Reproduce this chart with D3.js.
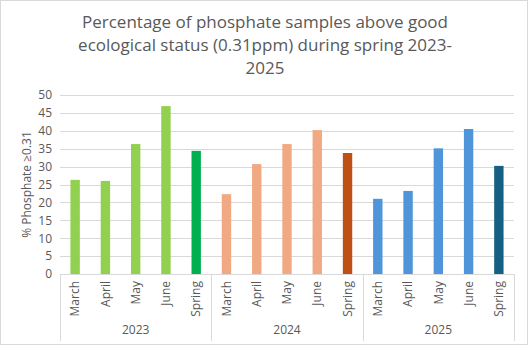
<!DOCTYPE html>
<html>
<head>
<meta charset="utf-8">
<script src="https://cdn.jsdelivr.net/npm/d3@7"></script>
<style>
html,body{margin:0;padding:0;background:#fff;}
svg{display:block;font-family:"Open Sans","Noto Sans",sans-serif;}
</style>
</head>
<body>
<svg id="chart" width="530" height="346"></svg>
<script>
const years = ["2023", "2024", "2025"];
const months = ["March", "April", "May", "June", "Spring"];
const values2023 = [26.3, 26.0, 36.3, 46.9, 34.4];
const values2024 = [22.3, 30.7, 36.3, 40.2, 33.8];
const values2025 = [21.0, 23.2, 35.1, 40.5, 30.2];
const yTicks = [0, 5, 10, 15, 20, 25, 30, 35, 40, 45, 50];
const titleLines = ["Percentage of phosphate samples above good", "ecological status (0.31ppm) during spring 2023-", "2025"];
const yLabel = "% Phosphate \u22650.31";
const monthColors = ["#92D050", "#F1A983", "#4E95D9"];
const springColors = ["#00B050", "#C04F15", "#156082"];

const seriesValues = [values2023, values2024, values2025];
const rows = [];
years.forEach((yr, yi) => months.forEach((m, mi) => rows.push({
  key: yr + "-" + m, year: yr, yi, month: m, value: seriesValues[yi][mi],
  color: m === "Spring" ? springColors[yi] : monthColors[yi]
})));

const svg = d3.select("#chart");
svg.append("rect").attr("x", 0.5).attr("y", 0.5).attr("width", 527).attr("height", 344)
  .attr("fill", "#fff").attr("stroke", "#d9d9d9").attr("stroke-width", 1);

const plotL = 60, plotR = 514, plotT = 95, plotB = 274;
const x = d3.scaleBand().domain(rows.map(d => d.key)).range([plotL, plotR]).paddingInner(0.69).paddingOuter(0.345);
const y = d3.scaleLinear().domain([0, 50]).range([plotB, plotT]);

// gridlines
svg.append("g").selectAll("line").data(yTicks.filter(t => t > 0)).join("line")
  .attr("x1", plotL).attr("x2", plotR)
  .attr("y1", d => Math.round(y(d)) + 0.5).attr("y2", d => Math.round(y(d)) + 0.5)
  .attr("stroke", "#d9d9d9").attr("stroke-width", 1);

// y axis labels
const yAxis = d3.axisLeft(y).tickValues(yTicks).tickSize(0).tickPadding(8);
const yg = svg.append("g").attr("transform", `translate(${plotL},0)`).call(yAxis);
yg.select(".domain").remove();
yg.selectAll("text").attr("fill", "#595959").style("font-size", "12px").style("font-family", "'Open Sans','Noto Sans',sans-serif");

// bars
svg.append("g").selectAll("rect").data(rows).join("rect")
  .attr("x", d => x(d.key)).attr("width", x.bandwidth())
  .attr("y", d => y(d.value)).attr("height", d => y(0) - y(d.value))
  .attr("fill", d => d.color);

// x axis baseline
svg.append("line").attr("x1", plotL).attr("x2", plotR).attr("y1", plotB + 0.5).attr("y2", plotB + 0.5)
  .attr("stroke", "#d9d9d9");

// group separators
const step = x.step();
const seps = d3.range(years.length + 1).map(i => plotL + i * months.length * step);
svg.append("g").selectAll("line").data(seps).join("line")
  .attr("x1", d => Math.round(d) + 0.5).attr("x2", d => Math.round(d) + 0.5)
  .attr("y1", plotB).attr("y2", 341)
  .attr("stroke", "#d9d9d9");

// month labels
const xAxis = d3.axisBottom(x).tickSize(0).tickPadding(0).tickFormat(k => k.split("-")[1]);
const xg = svg.append("g").attr("transform", `translate(0,${plotB})`).call(xAxis);
xg.select(".domain").remove();
xg.selectAll(".tick text")
  .attr("transform", "rotate(-90)")
  .attr("x", -7).attr("y", 0).attr("dy", "0.35em")
  .attr("text-anchor", "end")
  .attr("fill", "#595959").style("font-size", "12px").style("font-family", "'Open Sans','Noto Sans',sans-serif");

// year labels
svg.append("g").selectAll("text").data(years).join("text")
  .attr("x", (d, i) => (seps[i] + seps[i + 1]) / 2).attr("y", 334)
  .attr("text-anchor", "middle").attr("fill", "#595959").style("font-size", "12px")
  .text(d => d);

// y label
svg.append("text").attr("transform", `translate(31,${(plotT + plotB) / 2}) rotate(-90)`)
  .attr("text-anchor", "middle").attr("fill", "#595959").style("font-size", "12px")
  .text(yLabel);

// title
svg.append("g").selectAll("text").data(titleLines).join("text")
  .attr("x", 265).attr("y", (d, i) => 28 + i * 23)
  .attr("text-anchor", "middle").attr("fill", "#595959").style("font-size", "17px")
  .text(d => d);
</script>
</body>
</html>
